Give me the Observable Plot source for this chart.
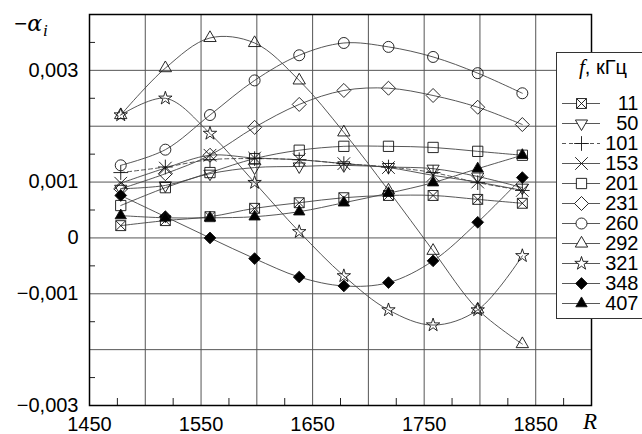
<!DOCTYPE html>
<html><head><meta charset="utf-8">
<script src="https://cdn.jsdelivr.net/npm/d3@7"></script>
<script src="https://cdn.jsdelivr.net/npm/@observablehq/plot@0.6"></script>
<style>
body{margin:0;background:#fff;overflow:hidden}
#wrap{position:relative;width:642px;height:434px;overflow:hidden;font-family:"Liberation Sans",Arial,sans-serif;background:#fff}
</style></head><body><div id="wrap"></div>
<script>
// ---- data ----
const R = [1478, 1518, 1558, 1598, 1638, 1678, 1718, 1758, 1798, 1838];
const freqs = ["11", "50", "101", "153", "201", "231", "260", "292", "321", "348", "407"];
const s11  = [0.00022, 0.00031, 0.00038, 0.00053, 0.00063, 0.00072, 0.00076, 0.00076, 0.00069, 0.00062];
const s50  = [0.00088, 0.00094, 0.00115, 0.00126, 0.00128, 0.00130, 0.00127, 0.00124, 0.00110, 0.00090];
const s101 = [0.00117, 0.00127, 0.00140, 0.00142, 0.00140, 0.00133, 0.00127, 0.00117, 0.00099, 0.00085];
const s153 = [0.00098, 0.00125, 0.00148, 0.00143, 0.00140, 0.00133, 0.00126, 0.00112, 0.00100, 0.00085];
const s201 = [0.00058, 0.00090, 0.00117, 0.00142, 0.00157, 0.00164, 0.00164, 0.00162, 0.00155, 0.00148];
const s231 = [0.00088, 0.00115, 0.00148, 0.00198, 0.00239, 0.00264, 0.00268, 0.00255, 0.00234, 0.00203];
const s260 = [0.00130, 0.00158, 0.00220, 0.00282, 0.00327, 0.00349, 0.00342, 0.00324, 0.00295, 0.00259];
const s292 = [0.00220, 0.00304, 0.00358, 0.00349, 0.00282, 0.00189, 0.00085, -0.00023, -0.00128, -0.00190];
const s321 = [0.00220, 0.00250, 0.00187, 0.00099, 0.00011, -0.00068, -0.00129, -0.00156, -0.00129, -0.00032];
const s348 = [0.00076, 0.00038, 0.00000, -0.00037, -0.00070, -0.00086, -0.00080, -0.00041, 0.00028, 0.00108];
const s407 = [0.00040, 0.00036, 0.00036, 0.00038, 0.00047, 0.00063, 0.00080, 0.00099, 0.00124, 0.00148];
const xTickLabels = [1450, 1550, 1650, 1750, 1850];
const yTickLabels = [0.003, 0.001, 0, -0.001, -0.003];
const xGrid = [1450, 1500, 1550, 1600, 1650, 1700, 1750, 1800, 1850, 1900];
const yGrid = [-0.003, -0.002, -0.001, 0, 0.001, 0.002, 0.003, 0.004];
const xMinor = [1475, 1525, 1575, 1625, 1675, 1725, 1775, 1825, 1875];
const yMinor = [-0.0025, -0.0015, -0.0005, 0.0005, 0.0015, 0.0025, 0.0035];

const series = {"11": s11, "50": s50, "101": s101, "153": s153, "201": s201, "231": s231,
  "260": s260, "292": s292, "321": s321, "348": s348, "407": s407};
const rows = freqs.flatMap(f => R.map((r, i) => ({f, R: r, v: series[f][i]})));

// ---- symbols ----
const squareX = {draw(ctx, size) {
  const s = Math.sqrt(size) / 2;
  ctx.moveTo(-s, -s); ctx.lineTo(s, -s); ctx.lineTo(s, s); ctx.lineTo(-s, s); ctx.closePath();
  ctx.moveTo(-s, -s); ctx.lineTo(s, s); ctx.moveTo(s, -s); ctx.lineTo(-s, s);
}};
const triDown = {draw(ctx, size) {
  const s = Math.sqrt(size) * 0.6824, t = s / 2, u = s * Math.sqrt(3) / 2;
  ctx.moveTo(0, s); ctx.lineTo(u, -t); ctx.lineTo(-u, -t); ctx.closePath();
}};
const sty = {
  "11":  {symbol: squareX, r: 5.6, fill: "none"},
  "50":  {symbol: triDown, r: 5.8, fill: "none"},
  "101": {symbol: "plus", r: 4.8, fill: "none", dash: "4,3"},
  "153": {symbol: "times", r: 5.8, fill: "none"},
  "201": {symbol: "square", r: 5.8, fill: "none"},
  "231": {symbol: "diamond2", r: 6.3, fill: "none"},
  "260": {symbol: "circle", r: 5.5, fill: "none"},
  "292": {symbol: "triangle2", r: 5.9, fill: "none"},
  "321": {symbol: "star", r: 4.2, fill: "none"},
  "348": {symbol: "diamond2", r: 5.3, fill: "black"},
  "407": {symbol: "triangle", r: 4.2, fill: "black"}
};

// ---- layout ----
const W = 642, H = 434, mL = 89, mR = 51, mT = 14, mB = 29;
const plotW = W - mL - mR, plotH = H - mT - mB;
const fmt = d => d === 0 ? "0" : d3.format(".3f")(d).replace(".", ",");
const lineColor = "#444";
const sans = '"Liberation Sans", Arial, sans-serif';

const marks = [
  Plot.gridX(xGrid, {stroke: "#555", strokeOpacity: 1, strokeWidth: 1}),
  Plot.gridY(yGrid, {stroke: "#555", strokeOpacity: 1, strokeWidth: 1}),
  Plot.tickX(xMinor, {x: d => d, insetTop: plotH - 7, stroke: "#222"}),
  Plot.tickY(yMinor, {y: d => d, insetRight: plotW - 6, stroke: "#222"}),
  Plot.axisX(xTickLabels, {tickSize: 0, tickPadding: 11, fontSize: 20, label: null, tickFormat: d => String(d)}),
  Plot.axisY(yTickLabels, {tickSize: 0, tickPadding: 11, fontSize: 20, label: null, tickFormat: fmt})
];
for (const f of freqs) {
  marks.push(Plot.line(rows.filter(d => d.f === f), {x: "R", y: "v", curve: "catmull-rom",
    stroke: lineColor, strokeWidth: 0.9, strokeDasharray: sty[f].dash || null}));
}
for (const f of freqs) {
  const s = sty[f];
  marks.push(Plot.dot(rows.filter(d => d.f === f), {x: "R", y: "v", symbol: s.symbol, r: s.r,
    fill: s.fill, stroke: "#111", strokeWidth: 0.9}));
}
marks.push(Plot.frame({stroke: "#000", strokeWidth: 1.5}));

const chart = Plot.plot({
  width: W, height: H, marginLeft: mL, marginRight: mR, marginTop: mT, marginBottom: mB,
  x: {domain: [1450, 1900]},
  y: {domain: [-0.003, 0.004]},
  style: {fontFamily: sans, fontSize: "20px", color: "#000", background: "white", overflow: "visible"},
  marks
});
document.getElementById("wrap").appendChild(chart);

const svg = d3.select(chart);
const yl = svg.append("text").attr("x", 31).attr("y", 31).attr("font-size", 22).attr("fill", "#000");
yl.append("tspan").attr("font-family", sans).text("−");
yl.append("tspan").attr("font-family", '"DejaVu Serif", "Liberation Serif", serif').attr("font-style", "italic").text("α");
yl.append("tspan").attr("font-family", '"Liberation Serif", serif').attr("font-style", "italic")
  .attr("font-size", 17).attr("dy", 5).attr("dx", 1).text("i");
svg.append("text").attr("x", 590).attr("y", 429).attr("font-size", 23)
  .attr("font-family", '"Liberation Serif", serif').attr("font-style", "italic").attr("fill", "#000").text("R");

// ---- legend (separate Plot, nested into the chart svg) ----
const LW = 85, LH = 266;
const lmarks = [];
for (const f of freqs) {
  lmarks.push(Plot.ruleY([f], {y: d => d, stroke: lineColor, strokeWidth: 0.9, strokeDasharray: sty[f].dash || null}));
}
for (const f of freqs) {
  const s = sty[f];
  lmarks.push(Plot.dot([f], {y: d => d, frameAnchor: "middle", symbol: s.symbol, r: s.r,
    fill: s.fill === "none" ? "white" : s.fill, stroke: "#111", strokeWidth: 0.9}));
}
lmarks.push(Plot.text(freqs, {y: d => d, text: d => d, frameAnchor: "right", textAnchor: "end", dx: 38, fontSize: 20, fill: "#000"}));
const legend = Plot.plot({
  width: LW, height: LH, marginLeft: 5, marginRight: 42, marginTop: 0, marginBottom: 0,
  y: {type: "point", domain: freqs, range: [46, 254], padding: 0, axis: null},
  style: {fontFamily: sans, fontSize: "20px", color: "#000", background: "transparent"},
  marks: lmarks
});
const lt = d3.select(legend).append("text").attr("x", 46).attr("y", 21).attr("text-anchor", "middle")
  .attr("font-size", 21).attr("fill", "#000");
lt.append("tspan").attr("font-family", '"Liberation Serif", serif').attr("font-style", "italic").text("f");
lt.append("tspan").attr("font-family", sans).attr("font-size", 20).text(", кГц");

svg.append("rect").attr("x", 556.5).attr("y", 52.5).attr("width", 100).attr("height", LH)
  .attr("fill", "white").attr("stroke", "#333").attr("stroke-width", 1);
legend.setAttribute("style", `width:${LW}px;height:${LH}px;max-width:none;overflow:visible;background:none;font-family:${sans};font-size:20px`);
legend.setAttribute("x", 557);
legend.setAttribute("y", 53);
legend.setAttribute("width", LW);
legend.setAttribute("height", LH);
chart.appendChild(legend);
</script></body></html>
